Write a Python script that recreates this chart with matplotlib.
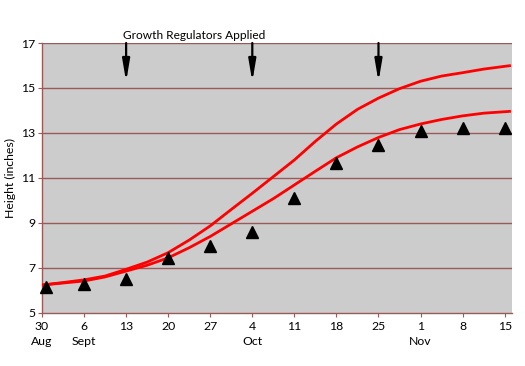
import matplotlib
matplotlib.use("Agg")
import matplotlib.pyplot as plt

plt.rcParams['font.family'] = ['Lato', 'DejaVu Sans']

# days after 30 Aug
days = [0, 7, 14, 21, 28, 35, 42, 49, 56, 63, 70, 77]
tick_labels = ["30\nAug", "6\nSept", "13", "20", "27", "4\nOct", "11", "18", "25", "1\nNov", "8", "15"]

# measured heights (triangles)
measured = [6.17, 6.27, 6.5, 7.44, 7.98, 8.6, 10.1, 11.65, 12.45, 13.09, 13.22, 13.22]

# the two fitted curves, read every half week
curve_x = [0, 3.5, 7, 10.5, 14, 17.5, 21, 24.5, 28, 31.5, 35, 38.5, 42,
           45.5, 49, 52.5, 56, 59.5, 63, 66.5, 70, 73.5, 77.8]
upper = [6.24, 6.35, 6.47, 6.64, 6.94, 7.26, 7.68, 8.24, 8.87, 9.6, 10.32, 11.06, 11.8,
         12.63, 13.4, 14.05, 14.55, 14.97, 15.3, 15.53, 15.68, 15.84, 15.99]
lower = [6.24, 6.33, 6.42, 6.6, 6.86, 7.12, 7.45, 7.9, 8.4, 8.96, 9.52, 10.08, 10.69,
         11.3, 11.9, 12.38, 12.8, 13.15, 13.4, 13.6, 13.76, 13.88, 13.96]

# application dates (13 Sept, 4 Oct, 25 Oct)
applied = [14, 35, 56]

grid_col = "#9a5a5a"

fig = plt.figure(figsize=(5.25, 3.66), dpi=100)
ax = fig.add_axes([0.08, 0.145, 0.895, 0.7375])
ax.set_facecolor("#cccccc")

for y in [7, 9, 11, 13, 15, 17]:
    ax.axhline(y, color=grid_col, lw=1.0, zorder=1)

ax.plot(curve_x, upper, color="#ff0000", lw=2.0, zorder=3, solid_joinstyle="round")
ax.plot(curve_x, lower, color="#ff0000", lw=2.0, zorder=3, solid_joinstyle="round")
mx = [d + 0.6 if d == 0 else d for d in days]
ax.plot(mx, measured, "^", color="black", markersize=8, zorder=4, clip_on=False)

for d in applied:
    ax.annotate("", xy=(d, 15.28), xytext=(d, 17),
                arrowprops=dict(arrowstyle="-|>,head_length=1.3,head_width=0.22",
                                color="black", lw=1.6, shrinkA=0, shrinkB=0),
                zorder=5)
ax.text(13.4, 17.08, "Growth Regulators Applied", fontsize=8.6, ha="left", va="bottom")

ax.set_xlim(0, 78.2)
ax.set_ylim(5, 17)
ax.set_xticks(days)
ax.set_xticklabels(tick_labels, fontsize=8.8, linespacing=1.45)
ax.set_yticks([5, 7, 9, 11, 13, 15, 17])
ax.tick_params(axis="y", labelsize=8.8, length=3, color=grid_col, pad=2)
ax.tick_params(axis="x", labelsize=8.8, length=3, color=grid_col, pad=3)
ax.set_ylabel("Height (inches)", fontsize=8.8)
ax.yaxis.set_label_coords(-0.056, 0.5)

for s in ["top", "right"]:
    ax.spines[s].set_visible(False)
for s in ["left", "bottom"]:
    ax.spines[s].set_color(grid_col)
    ax.spines[s].set_linewidth(1.0)

fig.savefig("out.png", dpi=100)
